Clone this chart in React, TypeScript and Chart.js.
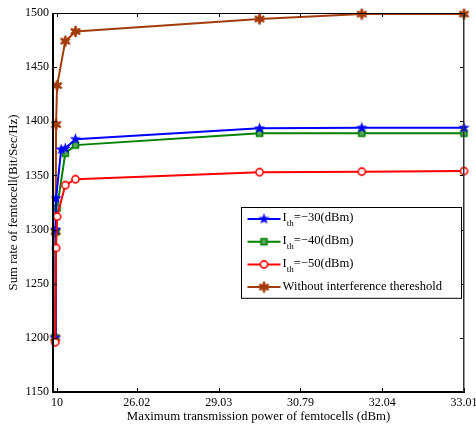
import React, { useEffect, useRef } from 'react';
import { Chart, registerables } from 'chart.js';

Chart.register(...registerables);

// Tick positions are the power in W; labels are the same power in dBm
const X_TICK_VALUES = [0.01, 0.4, 0.8, 1.2, 1.6, 2.0];
const X_TICK_LABELS = ['10', '26.02', '29.03', '30.79', '32.04', '33.01'];

const SERIES_NAMES = ['I_th=\u221230(dBm)', 'I_th=\u221240(dBm)', 'I_th=\u221250(dBm)', 'Without interference thereshold'];

const X_BLUE = [0.001, 0.003, 0.005, 0.03, 0.05, 0.1, 1.0, 1.5, 2.0];
const Y_BLUE = [1200, 1300, 1329, 1374, 1375, 1383.5, 1393.5, 1394, 1394];

const X_GREEN = [0.001, 0.003, 0.01, 0.05, 0.1, 1.0, 1.5, 2.0];
const Y_GREEN = [1200, 1298, 1320, 1370.5, 1378, 1389, 1389, 1389];

const X_RED = [0.001, 0.005, 0.01, 0.05, 0.1, 1.0, 1.5, 2.0];
const Y_RED = [1196, 1283, 1312, 1341, 1346.5, 1353, 1353.5, 1354];

const X_BROWN = [0.001, 0.003, 0.005, 0.01, 0.05, 0.1, 1.0, 1.5, 2.0];
const Y_BROWN = [1200, 1298, 1397, 1433, 1474, 1483, 1494.5, 1499, 1499];

const COLORS = ['#0000ff', '#008000', '#ff0000', '#a33c0c'];
const FONT = '"Liberation Serif", "Times New Roman", serif';

function makeMarker(kind: string, color: string): HTMLCanvasElement {
  const s = 13;
  const c = document.createElement('canvas');
  c.width = s; c.height = s;
  const g = c.getContext('2d')!;
  const cx = s / 2, cy = s / 2;
  if (kind === 'pentagram') {
    g.beginPath();
    for (let i = 0; i < 10; i++) {
      const r = i % 2 === 0 ? 6 : 2.4;
      const ang = -Math.PI / 2 + (i * Math.PI) / 5;
      const x = cx + r * Math.cos(ang), y = cy + r * Math.sin(ang);
      if (i === 0) g.moveTo(x, y); else g.lineTo(x, y);
    }
    g.closePath();
    g.fillStyle = color; g.fill();
  } else if (kind === 'square') {
    g.fillStyle = '#5aa95a';
    g.fillRect(cx - 3, cy - 3, 6, 6);
    g.strokeStyle = color; g.lineWidth = 1.6;
    g.strokeRect(cx - 3, cy - 3, 6, 6);
  } else if (kind === 'circle') {
    g.beginPath(); g.arc(cx, cy, 3.6, 0, Math.PI * 2);
    g.fillStyle = '#ffffff'; g.fill();
    g.strokeStyle = color; g.lineWidth = 1.6; g.stroke();
  } else {
    g.strokeStyle = color; g.lineWidth = 2.6; g.lineCap = 'round';
    for (let i = 0; i < 6; i++) {
      const ang = (i * Math.PI) / 3 + Math.PI / 6;
      g.beginPath(); g.moveTo(cx, cy);
      g.lineTo(cx + 4.4 * Math.cos(ang), cy + 4.4 * Math.sin(ang)); g.stroke();
    }
    g.beginPath(); g.arc(cx, cy, 3.2, 0, Math.PI * 2); g.fillStyle = color; g.fill();
  }
  return c;
}

export default function App() {
  const ref = useRef<HTMLCanvasElement | null>(null);
  useEffect(() => {
    if (!ref.current) return;
    const markers = [
      makeMarker('pentagram', COLORS[0]),
      makeMarker('square', COLORS[1]),
      makeMarker('circle', COLORS[2]),
      makeMarker('asterisk', COLORS[3]),
    ];
    const xsArr = [X_BLUE, X_GREEN, X_RED, X_BROWN];
    const ysArr = [Y_BLUE, Y_GREEN, Y_RED, Y_BROWN];
    const drawOrder = [1, 2, 0, 3];

    const framePlugin = {
      id: 'frame',
      afterDraw(chart: any) {
        const { ctx, chartArea: a, scales } = chart;
        const xs = scales.x, ys = scales.y;
        ctx.save();
        ctx.strokeStyle = '#000';
        ctx.lineWidth = 1;
        const seg = (x1: number, y1: number, x2: number, y2: number) => {
          ctx.beginPath(); ctx.moveTo(x1, y1); ctx.lineTo(x2, y2); ctx.stroke();
        };
        X_TICK_VALUES.forEach((v) => {
          const px = Math.round(xs.getPixelForValue(v)) + 0.5;
          seg(px, a.bottom, px, a.bottom - 4);
          seg(px, a.top, px, a.top + 4);
        });
        ys.ticks.forEach((t: any) => {
          const py = Math.round(ys.getPixelForValue(t.value)) + 0.5;
          seg(a.left, py, a.left + 4, py);
          seg(a.right, py, a.right - 4, py);
        });
        // box
        ctx.fillStyle = '#000';
        ctx.fillRect(Math.round(a.left) - 1, a.top, 2, a.bottom - a.top + 1);
        ctx.fillRect(Math.round(a.left) - 1, Math.round(a.bottom) - 1, a.right - a.left + 2, 2);
        ctx.fillRect(Math.round(a.left), Math.round(a.top), a.right - a.left, 1);
        ctx.fillStyle = '#333';
        ctx.fillRect(Math.round(a.right) - 1, a.top, 1.5, a.bottom - a.top);

        // legend
        const lw = 220, rowH = 22.7;
        const lx = Math.round(a.right) - 222.5;
        const ly = Math.round(a.top) + 194.5;
        const lh = rowH * SERIES_NAMES.length;
        ctx.fillStyle = '#fff';
        ctx.fillRect(lx, ly, lw, lh);
        ctx.strokeStyle = '#000'; ctx.lineWidth = 1;
        ctx.strokeRect(lx, ly, lw, lh);
        SERIES_NAMES.forEach((name, i) => {
          const cy = ly + 11.5 + i * rowH;
          ctx.strokeStyle = COLORS[i]; ctx.lineWidth = 2;
          seg(lx + 6, cy, lx + 39, cy);
          const m = markers[i];
          ctx.drawImage(m, lx + 22.5 - m.width / 2, cy - m.height / 2);
          ctx.fillStyle = '#000';
          ctx.textBaseline = 'middle';
          ctx.textAlign = 'left';
          let tx = lx + 41;
          const us = name.indexOf('_');
          if (us >= 0) {
            const eq = name.indexOf('=');
            const main = name.slice(0, us), sub = name.slice(us + 1, eq), rest = name.slice(eq);
            ctx.font = `12.6px ${FONT}`;
            ctx.fillText(main, tx, cy - 1);
            tx += ctx.measureText(main).width;
            ctx.font = `9px ${FONT}`;
            ctx.fillText(sub, tx, cy + 5);
            tx += ctx.measureText(sub).width;
            ctx.font = `12.6px ${FONT}`;
            ctx.fillText(rest, tx, cy - 1);
          } else {
            ctx.font = `12.6px ${FONT}`;
            ctx.fillText(name, tx, cy);
          }
        });
        ctx.restore();
      },
    };

    const chart = new Chart(ref.current, {
      type: 'line',
      data: {
        datasets: SERIES_NAMES.map((name, i) => ({
          label: name,
          data: xsArr[i].map((x, k) => ({ x, y: ysArr[i][k] })),
          borderColor: COLORS[i],
          backgroundColor: COLORS[i],
          borderWidth: 2,
          pointStyle: markers[i] as any,
          pointRadius: 5,
          pointHoverRadius: 5,
          tension: 0,
          clip: false as any,
          order: drawOrder[i],
        })),
      },
      options: {
        animation: false,
        responsive: false,
        maintainAspectRatio: false,
        layout: { padding: { top: 13, right: 12, left: 0, bottom: 0 } },
        plugins: { legend: { display: false }, tooltip: { enabled: false } },
        scales: {
          x: {
            type: 'linear',
            min: -0.01,
            max: 2.0,
            afterBuildTicks: (scale: any) => {
              scale.ticks = X_TICK_VALUES.map((v) => ({ value: v }));
            },
            afterFit: (scale: any) => {
              scale.height = 33;
              scale.paddingLeft = 0;
              scale.paddingRight = 0;
            },
            grid: { display: false, drawTicks: false },
            border: { display: false },
            ticks: {
              autoSkip: false,
              maxRotation: 0,
              padding: 4,
              color: '#000',
              font: { family: FONT, size: 12 },
              callback: (_v: any, idx: number) => X_TICK_LABELS[idx],
            },
            title: {
              display: true,
              text: 'Maximum transmission power of femtocells (dBm)',
              color: '#000',
              font: { family: FONT, size: 12.8 },
              padding: { top: 0, bottom: 1 },
            },
          },
          y: {
            min: 1150,
            max: 1500,
            afterFit: (scale: any) => {
              scale.width = 53;
              scale.paddingTop = 0;
              scale.paddingBottom = 0;
            },
            grid: { display: false, drawTicks: false },
            border: { display: false },
            ticks: {
              stepSize: 50,
              padding: 4,
              color: '#000',
              font: { family: FONT, size: 12 },
              callback: (v: any) => String(v),
            },
            title: {
              display: true,
              text: 'Sum rate of femtocell(Bit/Sec/Hz)',
              color: '#000',
              font: { family: FONT, size: 12.8 },
              padding: { top: 6, bottom: 0 },
            },
          },
        },
      },
      plugins: [framePlugin],
    });
    return () => chart.destroy();
  }, []);

  return (
    <div style={{ position: 'fixed', left: 0, top: 0, width: 476, height: 425, background: '#fff' }}>
      <canvas ref={ref} width={476} height={425} style={{ display: 'block' }} />
    </div>
  );
}
